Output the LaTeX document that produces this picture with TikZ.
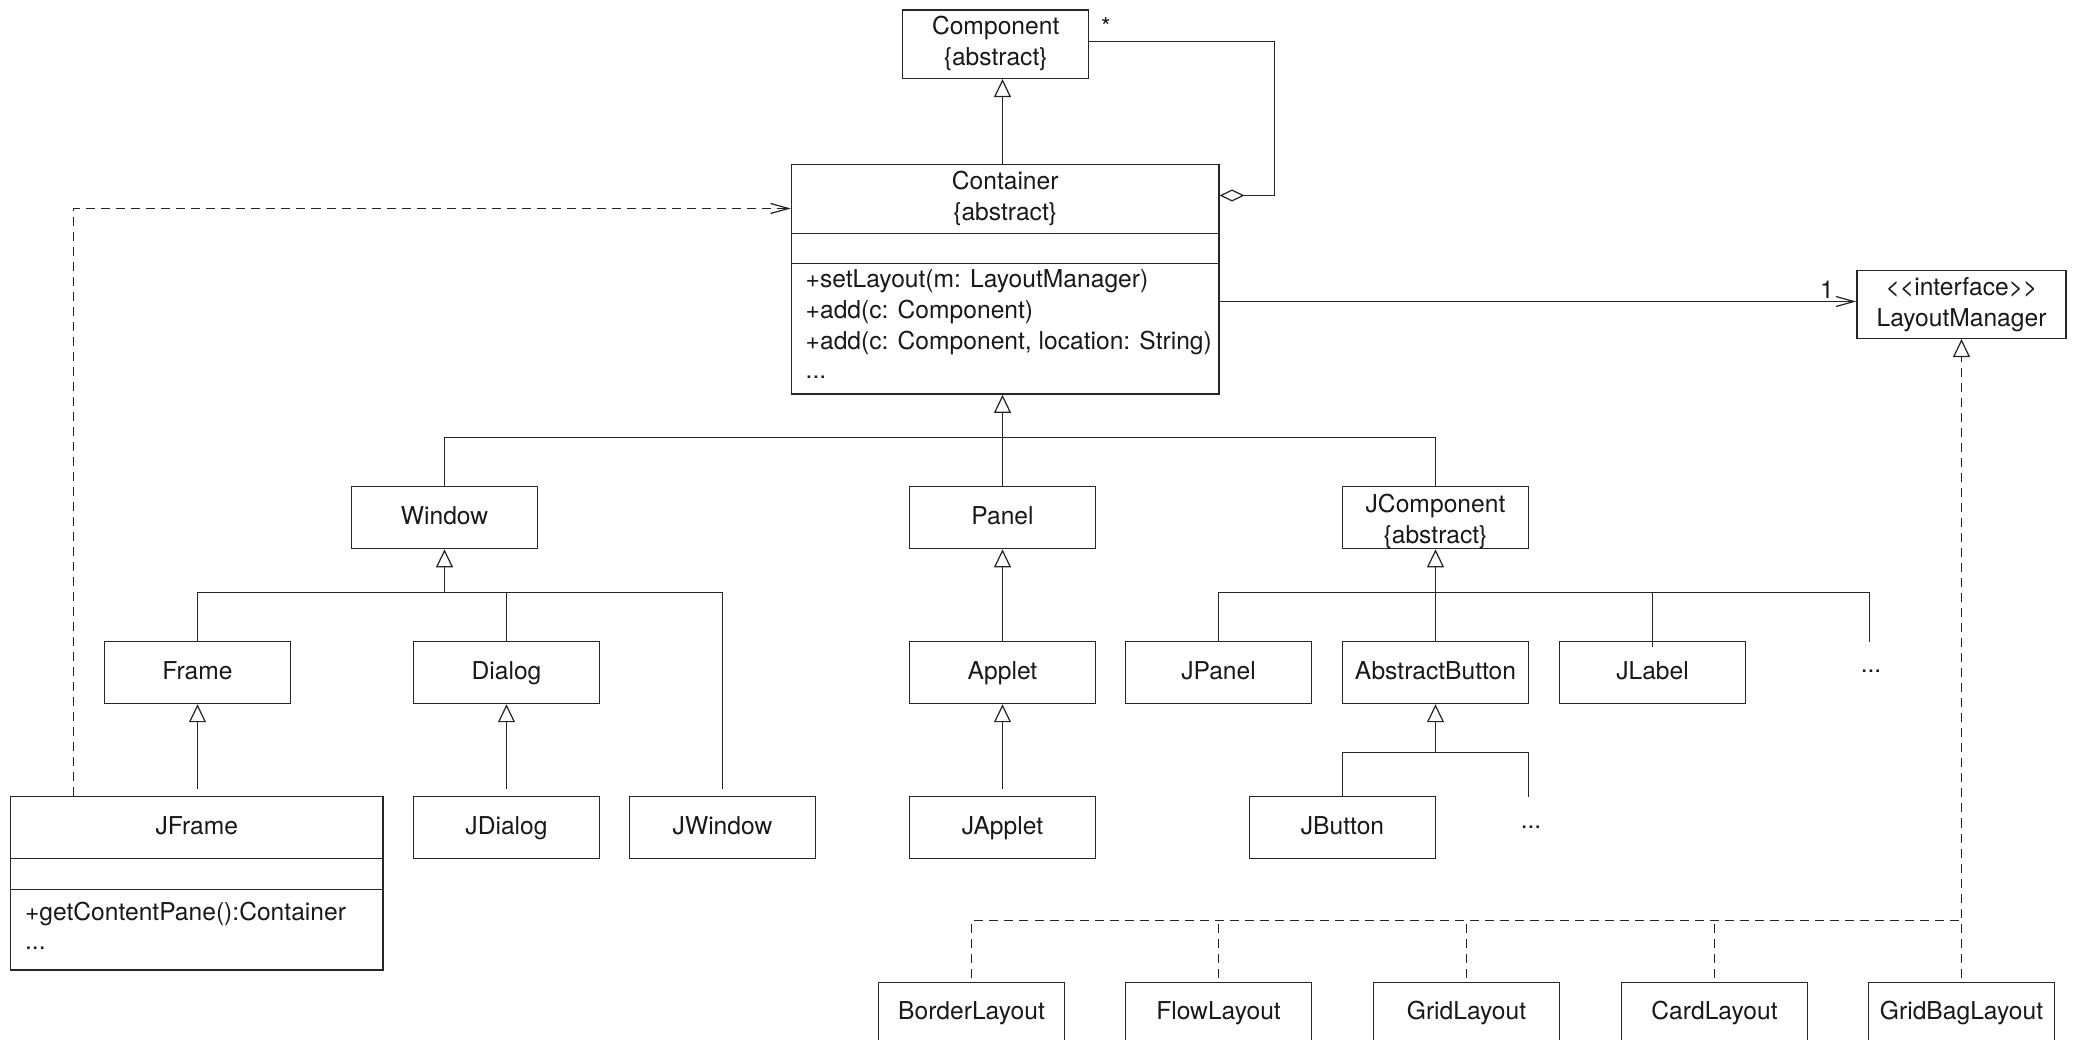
\documentclass[tikz,border=0pt]{standalone}
\usepackage{fontspec}
\setmainfont{TeX Gyre Heros}
\usetikzlibrary{arrows.meta}
\begin{document}
\begin{tikzpicture}[x=0.01cm,y=-0.01cm,
  every node/.style={font=\fontsize{7}{8.8}\selectfont, text=black!90},
  box/.style={draw=black!85, line width=0.4pt, minimum width=1.86cm, minimum height=0.62cm, inner sep=0pt, align=center},
  one/.style={text height=5.2pt, text depth=1.5pt},
  conn/.style={draw=black!85, line width=0.35pt},
  gen/.style={conn, -{Triangle[open, length=0.18cm, width=0.17cm]}},
  assoc/.style={conn, -{Straight Barb[length=0.18cm, width=0.1cm]}},
  dep/.style={assoc, dash pattern=on 0.09cm off 0.06cm},
  real/.style={gen, dash pattern=on 0.09cm off 0.06cm},
  dashln/.style={conn, dash pattern=on 0.09cm off 0.06cm},
  sep/.style={draw=black!85, line width=0.4pt},
  txt/.style={inner sep=0pt}
]
\useasboundingbox (0,0) rectangle (2073,1040);

% ---- classes ----
\node[box, minimum height=0.683cm] (component) at (995.7,44.2) {};
\node[txt, anchor=base] (compname) at (995.7,34.5) {Component};
\node[txt, anchor=base] (compabs) at (995.7,65.3) {\{abstract\}};

\node[box, minimum width=4.27cm, minimum height=2.293cm] (container) at (1005.2,279.35) {};
\draw[sep] (container.west |- 0,233.3) -- (container.east |- 0,233.3);
\draw[sep] (container.west |- 0,263.3) -- (container.east |- 0,263.3);
\node[txt, anchor=base] (contname) at (1005.2,190) {Container};
\node[txt, anchor=base] (contabs) at (1005.2,221) {\{abstract\}};
\node[txt, anchor=base west] (m1) at (805,288) {+setLayout(m: LayoutManager)};
\node[txt, anchor=base west] (m2) at (805,319) {+add(c: Component)};
\node[txt, anchor=base west] (m3) at (805,350) {+add(c: Component, location: String)};
\node[txt, anchor=base west] (m4) at (805,379) {...};

\node[box, minimum width=2.09cm, minimum height=0.676cm] (lm) at (1961.5,304.5) {{<}{<}interface{>}{>}\\LayoutManager};

\node[box, one] (window) at (444.5,517.6) {Window};
\node[box, one] (panel) at (1002.5,517.6) {Panel};
\node[box] (jcomp) at (1435.5,517.6) {};
\node[txt, anchor=base] (jcompname) at (1435.5,512) {JComponent};
\node[txt, anchor=base] (jcompabs) at (1435.5,543) {\{abstract\}};

\node[box, one] (frame) at (197.5,672.5) {Frame};
\node[box, one] (dialog) at (506.5,672.5) {Dialog};
\node[box, one] (applet) at (1002.5,672.5) {Applet};
\node[box, one] (jpanel) at (1218.5,672.5) {JPanel};
\node[box, one] (abutton) at (1435.5,672.5) {AbstractButton};
\node[box, one] (jlabel) at (1652.5,672.5) {JLabel};
\node[txt] (more1) at (1871,671) {...};

\node[box, minimum width=3.72cm, minimum height=1.733cm] (jframe) at (196.75,883.35) {};
\draw[sep] (jframe.west |- 0,858.3) -- (jframe.east |- 0,858.3);
\draw[sep] (jframe.west |- 0,889.3) -- (jframe.east |- 0,889.3);
\node[txt, anchor=base] (jframename) at (196.75,834) {JFrame};
\node[txt, anchor=base west] (jfm1) at (24.4,920) {+getContentPane():Container};
\node[txt, anchor=base west] (jfm2) at (24.4,949) {...};

\node[box, one] (jdialog) at (506.5,827.5) {JDialog};
\node[box, one] (jwindow) at (722.5,827.5) {JWindow};
\node[box, one] (japplet) at (1002.5,827.5) {JApplet};
\node[box, one] (jbutton) at (1342.5,827.5) {JButton};
\node[txt] (more2) at (1531,827) {...};

\node[box, one] (border) at (971.5,1013.3) {BorderLayout};
\node[box, one] (flow) at (1218.5,1013.3) {FlowLayout};
\node[box, one] (grid) at (1466.5,1013.3) {GridLayout};
\node[box, one] (card) at (1714.5,1013.3) {CardLayout};
\node[box, one] (gridbag) at (1961.5,1013.3) {GridBagLayout};

% ---- junction coordinates ----
\coordinate (b1) at (1002.5,437.5);
\coordinate (b2) at (444.5,592.5);
\coordinate (b3) at (1435.5,592.5);
\coordinate (b4) at (1435.5,752.5);
\coordinate (b5) at (1961.5,920.5);
\coordinate (selfc) at (1274.5,195.5);
\coordinate (dl) at (73.5,208.5);
\coordinate (more1top) at (1869.5,641.7);
\coordinate (more2top) at (1528.5,796.7);

% ---- Component / Container ----
\draw[gen] (container.north -| panel) -- (component.south -| panel);
\draw[conn, {Diamond[open, length=0.25cm, width=0.12cm]}-] (container.east |- selfc) -- (selfc) |- (component.east |- 0,41.5);
\node[txt] (star) at (1106,27) {*};
\draw[assoc] (container.east |- 0,301.5) -- (lm.west |- 0,301.5);
\node[txt] (onelbl) at (1827,290) {1};

% ---- Container subclasses ----
\draw[gen] (panel.north) -- (container.south -| panel);
\draw[conn] (window.north) |- (b1) -| (jcomp.north);

% ---- Window subclasses ----
\draw[gen] (b2) -- (window.south);
\draw[conn] (frame.north) |- (b2) -| ([yshift=0.067cm]jwindow.north);
\draw[conn] (dialog.north) -- (dialog.north |- b2);
\draw[gen] ([yshift=0.067cm]jframe.north -| frame) -- (frame.south);
\draw[gen] ([yshift=0.067cm]jdialog.north) -- (dialog.south);

% ---- Panel ----
\draw[gen] (applet.north) -- (panel.south);
\draw[gen] ([yshift=0.067cm]japplet.north) -- (applet.south);

% ---- JComponent ----
\draw[gen] (b3) -- (jcomp.south);
\draw[conn] (jpanel.north) |- (b3) -| (more1top);
\draw[conn] (abutton.north) -- (b3);
\draw[conn] ([yshift=-0.06cm]jlabel.north) -- (jlabel.north |- b3);
\draw[gen] (b4) -- (abutton.south);
\draw[conn] (jbutton.north) |- (b4) -| (more2top);

% ---- JFrame dependency ----
\draw[dep] (jframe.north -| dl) |- (container.west |- dl);

% ---- Layouts ----
\draw[real] ([yshift=0.04cm]gridbag.north) -- (lm.south);
\draw[dashln] ([yshift=0.04cm]border.north) |- (b5);
\draw[dashln] ([yshift=0.04cm]flow.north) -- (flow.north |- b5);
\draw[dashln] ([yshift=0.04cm]grid.north) -- (grid.north |- b5);
\draw[dashln] ([yshift=0.04cm]card.north) -- (card.north |- b5);
\end{tikzpicture}
\end{document}
